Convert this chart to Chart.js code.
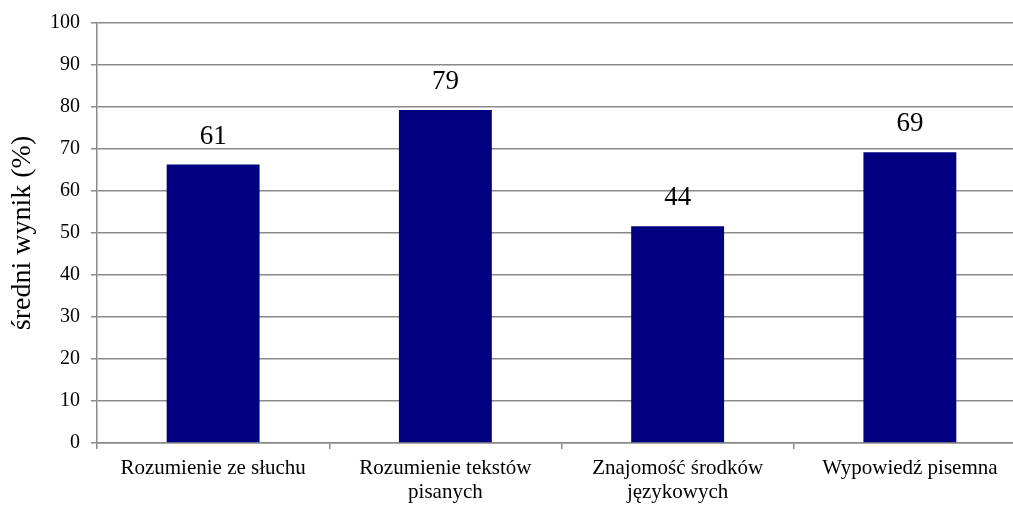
<!DOCTYPE html>
<html lang="pl">
  <head>
    <meta charset="UTF-8" />
    <title>Średni wynik</title>
    <script src="https://cdn.jsdelivr.net/npm/chart.js"></script>
    <style>
      body {
        margin: 0;
        background: #fff;
        overflow: hidden;
      }
      canvas {
        display: block;
      }
    </style>
  </head>
  <body>
    <canvas id="chart" width="1027" height="505"></canvas>

    <script>
      const categories = [
        "Rozumienie ze słuchu",
        ["Rozumienie tekstów", "pisanych"],
        ["Znajomość środków", "językowych"],
        "Wypowiedź pisemna",
      ];
      // bar heights as drawn in the picture
      const barValues = [66.3, 79.3, 51.6, 69.2];
      // numbers printed above the bars
      const valueLabels = ["61", "79", "44", "69"];
      const yTicks = [0, 10, 20, 30, 40, 50, 60, 70, 80, 90, 100];

      const serif = "'Liberation Serif', 'Times New Roman', serif";
      const gridColor = "#8a8a8a";

      const barLabels = {
        id: "barLabels",
        afterDatasetsDraw(chart) {
          const ctx = chart.ctx;
          const meta = chart.getDatasetMeta(0);
          ctx.save();
          ctx.font = "27px " + serif;
          ctx.fillStyle = "#000";
          ctx.textAlign = "center";
          ctx.textBaseline = "middle";
          meta.data.forEach((bar, i) => {
            ctx.fillText(valueLabels[i], bar.x, bar.y - 28);
          });
          ctx.restore();
        },
      };

      new Chart(document.getElementById("chart"), {
        type: "bar",
        data: {
          labels: categories,
          datasets: [
            {
              data: barValues,
              backgroundColor: "#000080",
              borderWidth: 0,
              barPercentage: 0.8,
              categoryPercentage: 0.5,
            },
          ],
        },
        options: {
          responsive: false,
          animation: false,
          layout: { padding: { top: 22, right: 1, left: 0, bottom: 0 } },
          plugins: {
            legend: { display: false },
            tooltip: { enabled: false },
          },
          scales: {
            x: {
              grid: {
                drawOnChartArea: false,
                drawTicks: true,
                tickLength: 6,
                color: gridColor,
                lineWidth: 1.5,
              },
              border: { color: gridColor, width: 1.5 },
              ticks: {
                color: "#000",
                font: { family: serif, size: 21, lineHeight: 1.15 },
                padding: 7,
                maxRotation: 0,
                autoSkip: false,
              },
              afterFit(scale) {
                scale.height = 62;
              },
            },
            y: {
              min: 0,
              max: 100,
              afterBuildTicks(scale) {
                scale.ticks = yTicks.map((v) => ({ value: v }));
              },
              grid: {
                color: gridColor,
                lineWidth: 1.5,
                tickLength: 6,
              },
              border: { color: gridColor, width: 1.5 },
              ticks: {
                color: "#000",
                font: { family: serif, size: 20 },
                padding: 11,
              },
              title: {
                display: true,
                text: "średni wynik (%)",
                color: "#000",
                font: { family: serif, size: 28 },
                padding: { top: 6, bottom: 0 },
              },
              afterFit(scale) {
                scale.width = 97;
              },
            },
          },
        },
        plugins: [barLabels],
      });
    </script>
  </body>
</html>
